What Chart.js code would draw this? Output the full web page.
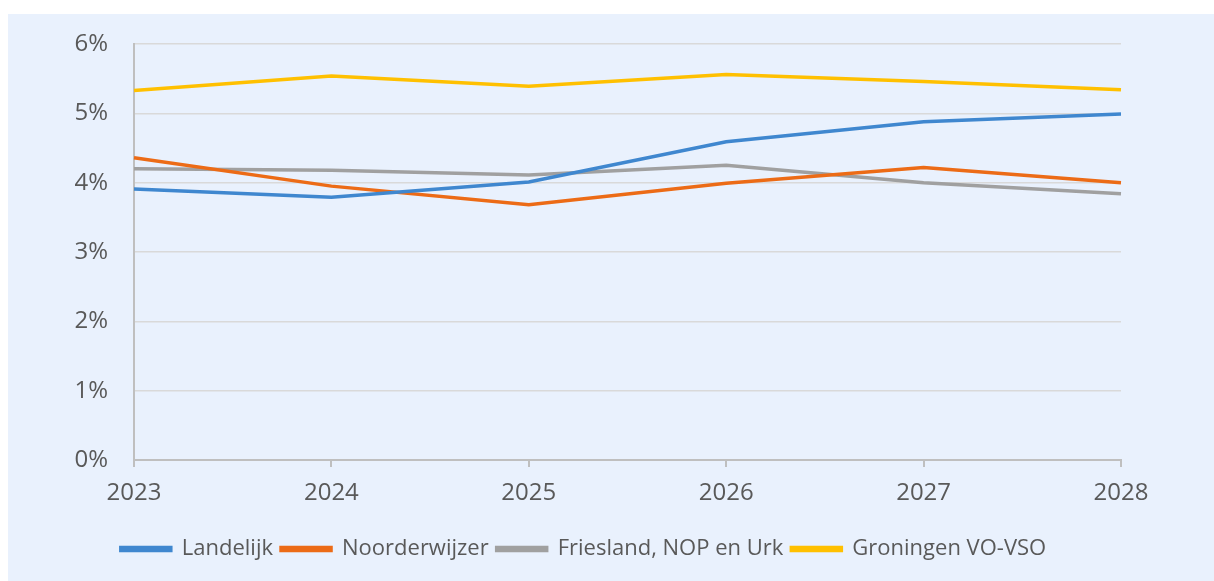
<!DOCTYPE html>
<html>
<head>
<meta charset="utf-8">
<script src="https://cdn.jsdelivr.net/npm/chart.js@4.4.1/dist/chart.umd.min.js"></script>
<style>
  html, body { margin: 0; padding: 0; background: #ffffff; width: 1214px; height: 581px; overflow: hidden; }
  #wrap { position: absolute; left: 8px; top: 14px; width: 1206px; height: 567px; background: #E9F1FD; }
  canvas { display: block; }
</style>
</head>
<body>
<div id="wrap"><canvas id="c" width="1206" height="567"></canvas></div>
<script>
const categories = ['2023', '2024', '2025', '2026', '2027', '2028'];
const landelijk = [3.91, 3.79, 4.01, 4.59, 4.88, 4.99];
const noorderwijzer = [4.36, 3.95, 3.68, 3.99, 4.22, 4.00];
const friesland = [4.20, 4.18, 4.11, 4.25, 4.00, 3.84];
const groningen = [5.33, 5.54, 5.39, 5.56, 5.46, 5.34];
const seriesNames = ['Landelijk', 'Noorderwijzer', 'Friesland, NOP en Urk', 'Groningen VO-VSO'];
const yTicks = [0, 1, 2, 3, 4, 5, 6];

const colors = ['#3F87CF', '#EC6B16', '#A0A0A0', '#FFC000'];
const seriesData = [landelijk, noorderwijzer, friesland, groningen];
const FONT = "'Open Sans', 'Liberation Sans', sans-serif";

const legendShift = {
  id: 'legendShift',
  afterLayout(chart) {
    const dx = 19;
    chart.legend.left += dx;
    chart.legend.right += dx;
  }
};

new Chart(document.getElementById('c'), {
  type: 'line',
  data: {
    labels: categories,
    datasets: seriesData.map((d, i) => ({
      label: seriesNames[i],
      data: d,
      borderColor: colors[i],
      backgroundColor: colors[i],
      borderWidth: 3.5,
      pointRadius: 0,
      tension: 0,
      fill: false
    }))
  },
  options: {
    responsive: false,
    animation: false,
    layout: { padding: { left: 0, right: 93, top: 30, bottom: 11 } },
    plugins: {
      tooltip: { enabled: false },
      legend: {
        position: 'bottom',
        align: 'center',
        labels: {
          boxWidth: 50,
          boxHeight: 3,
          padding: 8,
          color: '#595959',
          font: { family: FONT, size: 22 }
        }
      }
    },
    scales: {
      x: {
        type: 'category',
        offset: false,
        grid: { display: true, drawOnChartArea: false, drawTicks: true, tickLength: 7, color: '#BFBFBF', lineWidth: 2 },
        border: { display: true, color: '#BFBFBF', width: 2 },
        ticks: { color: '#595959', font: { family: FONT, size: 24 }, padding: 12, maxRotation: 0 },
        afterFit(scale) { scale.height = 70; }
      },
      y: {
        min: 0,
        max: 6,
        afterBuildTicks(scale) { scale.ticks = yTicks.map(v => ({ value: v })); },
        grid: { color: '#D9D9D9', lineWidth: 1.5, drawTicks: false },
        border: { display: true, color: '#BFBFBF', width: 2 },
        ticks: {
          color: '#595959',
          font: { family: FONT, size: 24 },
          padding: 26,
          callback: v => v + '%'
        },
        afterFit(scale) { scale.width = 126; scale.paddingTop = 0; scale.paddingBottom = 0; }
      }
    }
  },
  plugins: [legendShift]
});
</script>
</body>
</html>
